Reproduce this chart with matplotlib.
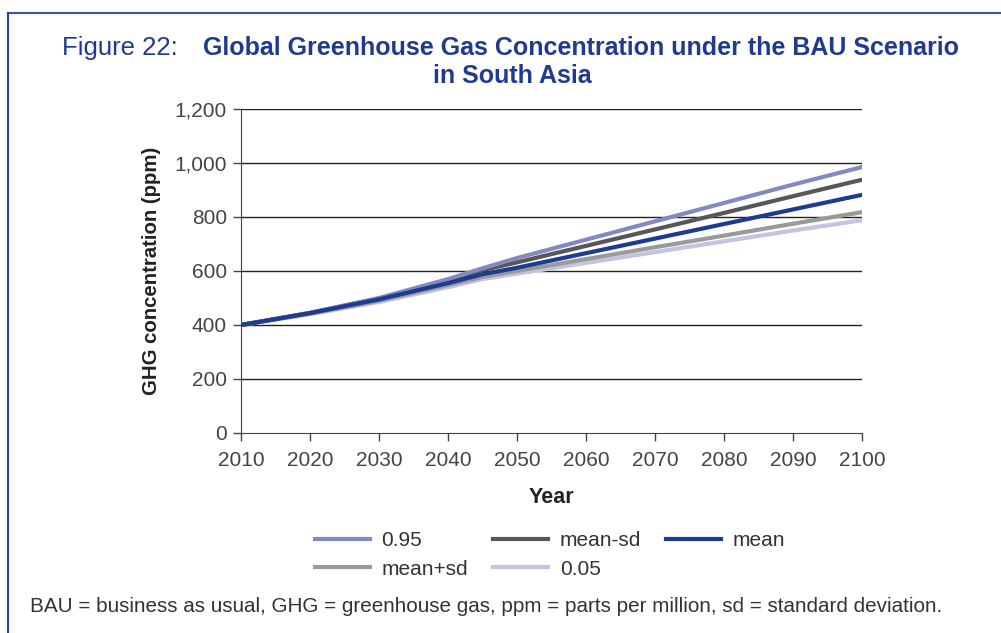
import matplotlib
matplotlib.use("Agg")
import matplotlib.pyplot as plt
from matplotlib.lines import Line2D

plt.rcParams['font.family'] = ['Liberation Sans', 'DejaVu Sans']

# Data
years = [2010, 2020, 2030, 2040, 2045, 2050, 2060, 2070, 2080, 2090, 2100]
p95 = [400, 445, 500, 570, 610, 648, 716, 784, 852, 920, 985]
mean_minus_sd = [400, 445, 498, 565, 603, 632, 693, 754, 815, 877, 938]
mean = [400, 444, 495, 555, 588, 612, 666, 720, 774, 828, 882]
mean_plus_sd = [400, 442, 490, 548, 578, 600, 644, 688, 731, 775, 818]
p05 = [400, 440, 485, 540, 570, 590, 630, 670, 710, 750, 788]

yticks = [0, 200, 400, 600, 800, 1000, 1200]
ytick_labels = ["0", "200", "400", "600", "800", "1,000", "1,200"]
xticks = list(range(2010, 2101, 10))

blue = "#1f3a8f"
tick_col = "#444444"

fig = plt.figure(figsize=(10.01, 6.33), dpi=100)
ax = fig.add_axes([241 / 1001, 200 / 633, 621 / 1001, 324 / 633])

# gridlines
for yv in yticks[1:]:
    ax.axhline(yv, color="#222222", lw=1.0, zorder=1)

ax.plot(years, p05, color="#c3c3e2", lw=3, label="0.05", zorder=3)
ax.plot(years, mean_plus_sd, color="#9a9a9a", lw=3, label="mean+sd", zorder=3)
ax.plot(years, mean, color="#1b3c91", lw=3, label="mean", zorder=4)
ax.plot(years, mean_minus_sd, color="#575757", lw=3, label="mean-sd", zorder=3)
ax.plot(years, p95, color="#8489c2", lw=3, label="0.95", zorder=3)

ax.set_xlim(2010, 2100)
ax.set_ylim(0, 1200)
ax.set_xticks(xticks)
ax.set_yticks(yticks)
ax.set_yticklabels(ytick_labels)
ax.tick_params(axis="both", direction="out", length=6, width=1,
               color="#444444", labelsize=15, labelcolor=tick_col, pad=7)
ax.tick_params(axis="y", pad=4)

for side in ["top", "right"]:
    ax.spines[side].set_visible(False)
ax.spines["left"].set_color("#444444")
ax.spines["bottom"].set_color("#444444")

ax.set_xlabel("Year", fontsize=15.5, fontweight="bold", color="#222222", labelpad=12)
ax.set_ylabel("GHG concentration (ppm)", fontsize=14.7, fontweight="bold",
              color="#222222", labelpad=10)

# legend, ordered so rows read: 0.95, mean-sd, mean / mean+sd, 0.05
handles = {h.get_label(): h for h in ax.get_lines()}
order = ["0.95", "mean+sd", "mean-sd", "0.05", "mean"]
leg = fig.legend([handles[k] for k in order], order, ncol=3, frameon=False,
                 loc="center", bbox_to_anchor=(550 / 1001, 1 - 555 / 633),
                 fontsize=15, handlelength=2.65, columnspacing=1.2,
                 labelspacing=0.45, handletextpad=0.55, borderpad=0)
for t in leg.get_texts():
    t.set_color("#333333")

# title
fig.text(62 / 1001, 1 - 48 / 633, "Figure 22:", fontsize=18.5, color=blue,
         va="center", ha="left")
fig.text(581 / 1001, 1 - 48 / 633,
         "Global Greenhouse Gas Concentration under the BAU Scenario",
         fontsize=18, fontweight="bold", color=blue, va="center", ha="center")
fig.text(512 / 1001, 1 - 76 / 633, "in South Asia", fontsize=18,
         fontweight="bold", color=blue, va="center", ha="center")

# footnote
fig.text(30 / 1001, 1 - 607 / 633,
         "BAU = business as usual, GHG = greenhouse gas, ppm = parts per million, sd = standard deviation.",
         fontsize=14.9, color="#333333", va="center", ha="left")

# frame lines at top and left
fig.add_artist(Line2D([8 / 1001, 1.0], [1 - 13 / 633, 1 - 13 / 633],
                      color="#3a55a5", lw=1.5, transform=fig.transFigure))
fig.add_artist(Line2D([8 / 1001, 8 / 1001], [0, 1 - 13 / 633],
                      color="#2a45a0", lw=1.5, transform=fig.transFigure))

fig.savefig("out.png", dpi=100)
